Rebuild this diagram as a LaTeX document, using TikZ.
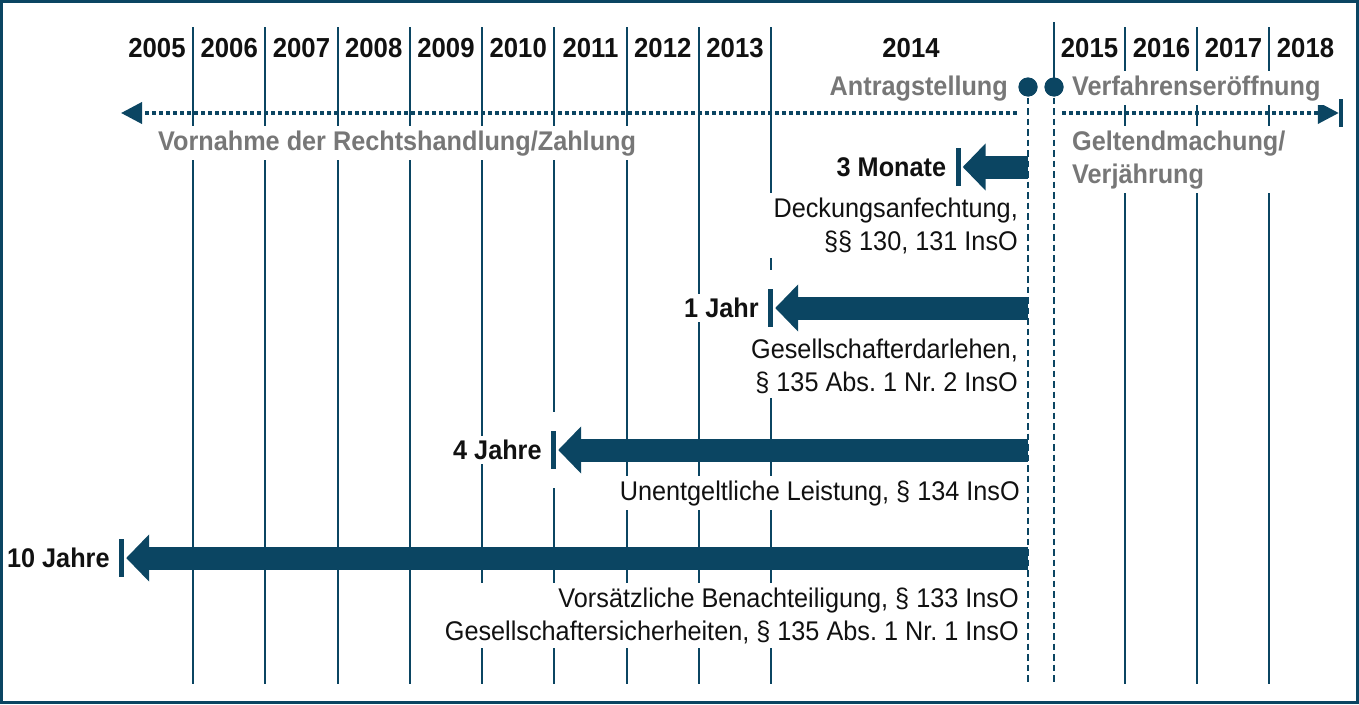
\documentclass[tikz,border=0pt]{standalone}
\usepackage{fontspec}
\setmainfont{Liberation Sans}[FakeStretch=0.935]
\usepackage{tikz}
\usetikzlibrary{arrows.meta,positioning}
\definecolor{petrol}{HTML}{0B4562}
\definecolor{ink}{HTML}{111111}
\definecolor{muted}{HTML}{777777}

\begin{document}
\begin{tikzpicture}[
  x=1pt,
  y=-1pt,
  yearlabel/.style={
    anchor=base,text=ink,font=\fontsize{27.5}{33}\selectfont\bfseries
  },
  grid/.style={draw=petrol,line width=2pt},
  marker/.style={draw=petrol,line width=2.2pt,dash pattern=on 6.5pt off 4pt},
  timeline/.style={
    draw=petrol,line width=3.8pt,dash pattern=on 4pt off 3pt,
    -{Triangle[length=21pt,width=21pt]}
  },
  endbar/.style={rectangle,fill=petrol,inner sep=0pt,minimum width=4pt,minimum height=28pt},
  eventlabel/.style={
    fill=white,inner xsep=8pt,inner ysep=4.5pt,text=muted,
    font=\fontsize{27}{33}\selectfont\bfseries
  },
  ruling/.style={
    fill=white,inner xsep=12pt,inner ysep=4.5pt,text=ink,align=right,
    anchor=base east,font=\fontsize{27}{33}\selectfont
  },
  stopbar/.style={
    rectangle,fill=petrol,inner sep=0pt,minimum width=5pt,minimum height=38pt,
    preaction={draw=white,line width=38pt}
  },
  period/.style={draw=petrol,line width=23pt,-{Triangle[length=23pt,width=46pt]}},
  periodlabel/.style={
    fill=white,inner sep=4.5pt,text=ink,anchor=east,
    font=\fontsize{27}{33}\selectfont\bfseries
  },
  event/.style={circle,fill=petrol,inner sep=0pt,minimum size=19pt}
]
  \useasboundingbox (0,0) rectangle (1359,704);
  \draw[petrol,line width=2.6pt] (1.3,1.3) rectangle (1357.7,702.7);

  % year grid
  \foreach \i in {0,...,8}
    \draw[grid] ({193+72.25*\i},27) -- ({193+72.25*\i},684);
  \foreach \x in {1125,1197,1269}
    \draw[grid] (\x,27) -- (\x,684);
  \foreach \yr [count=\i from 0] in {2005,...,2013}
    \node[yearlabel] (y\yr) at ({157+72.25*\i},57) {\yr};
  \node[yearlabel] (y2014) at (911,57) {2014};
  \foreach \yr [count=\i from 0] in {2015,...,2018}
    \node[yearlabel] (y\yr) at ({1089.5+72*\i},57) {\yr};

  % time axis
  \coordinate (tl-left) at (121,113);
  \coordinate (tl-a) at (1017,113);
  \coordinate (tl-b) at (1062,113);
  \node[endbar] (tl-end) at (1341,113) {};
  \draw[timeline] (tl-a) -- (tl-left);
  \draw[timeline] (tl-b) -- (tl-end.west);

  \node[eventlabel,anchor=base east] (antrag) at (1016,95) {Antragstellung};
  \node[eventlabel,anchor=base west] (eroeff) at (1064,95) {Verfahrenseröffnung};
  \node[eventlabel,anchor=base west] (vornahme) at (150,150)
    {Vornahme der Rechtshandlung/Zahlung};
  \node[eventlabel,anchor=base west,align=left] (geltend) at (1064,183)
    {Geltendmachung/\\Verjährung};

  % periods
  \foreach \nm/\xb/\yb in {3m/958/167,1j/770.5/308,4j/553.5/450,10j/121.5/558} {
    \node[stopbar] (s\nm) at (\xb,\yb) {};
    \coordinate (p\nm) at (1028,\yb);
  }

  \node[ruling] (r3m) at (1030,250) {Deckungsanfechtung,\\§§ 130, 131 InsO};
  \node[ruling] (r1j) at (1030,391)
    {Gesellschafterdarlehen,\\§ 135 Abs.~1 Nr.~2 InsO};
  \node[ruling] (r4j) at (1032,500) {Unentgeltliche Leistung, § 134 InsO};
  \node[ruling] (r10j) at (1031,640)
    {Vorsätzliche Benachteiligung, § 133 InsO\\Gesellschaftersicherheiten, § 135 Abs.~1 Nr.~1 InsO};

  \foreach \nm in {3m,1j,4j,10j}
    \draw[period] (p\nm) -- ([xshift=2pt]s\nm.east);

  \node[periodlabel,left=4.5pt of s3m] (l3m) {3 Monate};
  \node[periodlabel,left=4.5pt of s1j] (l1j) {1 Jahr};
  \node[periodlabel,left=4.5pt of s4j] (l4j) {4 Jahre};
  \node[periodlabel,left=4.5pt of s10j] (l10j) {10 Jahre};

  % filing and opening
  \node[event] (antrag-pt) at (1028,87) {};
  \node[event] (eroeff-pt) at (1054,87) {};
  \coordinate (antrag-foot) at (1028,683);
  \coordinate (eroeff-foot) at (1054,683);
  \coordinate (eroeff-top) at (1054,22);
  \draw[marker] (antrag-pt.center) -- (antrag-foot);
  \draw[marker] (eroeff-pt.center) -- (eroeff-foot);
  \draw[grid] (eroeff-pt.center) -- (eroeff-top);
  \node[event] at (antrag-pt) {};
  \node[event] at (eroeff-pt) {};
\end{tikzpicture}
\end{document}
